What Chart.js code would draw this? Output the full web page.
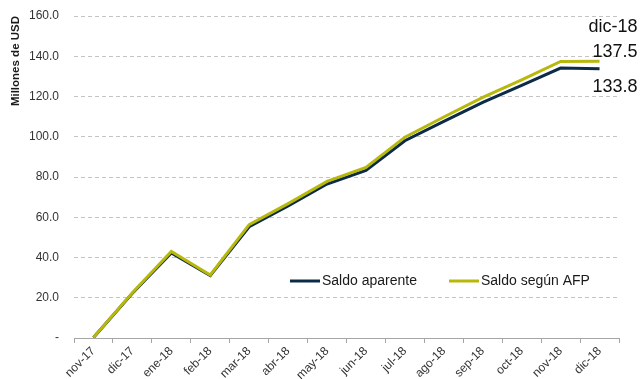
<!DOCTYPE html>
<html>
<head>
<meta charset="utf-8">
<script src="https://cdn.jsdelivr.net/npm/chart.js@4/dist/chart.umd.min.js"></script>
<style>
    html, body { margin: 0; padding: 0; background: #fff; }
    canvas { display: block; }
</style>
</head>
<body>
<canvas id="saldo" width="643" height="379"></canvas>
<script>
const meses = ['nov-17', 'dic-17', 'ene-18', 'feb-18', 'mar-18', 'abr-18', 'may-18',
    'jun-18', 'jul-18', 'ago-18', 'sep-18', 'oct-18', 'nov-18', 'dic-18']
const saldoAparente = [0.2, 22.2, 42.2, 31.0, 55.3, 65.6, 76.5, 83.3, 98.0, 107.6, 117.1, 125.5, 134.1, 133.8]
const saldoAfp = [0.3, 22.5, 43.0, 31.3, 56.3, 66.8, 77.8, 84.8, 99.8, 109.8, 119.6, 128.3, 137.4, 137.5]
const ejeY = [0, 20, 40, 60, 80, 100, 120, 140, 160]

const azul = '#0c2b47'
const amarillo = '#b8b80c'
const fuente = "'Liberation Sans', Arial, sans-serif"

// leyenda dentro del area del grafico
const leyenda = {
    id: 'leyenda',
    afterDatasetsDraw(chart) {
        const ctx = chart.ctx
        const items = [
            { text: 'Saldo aparente', color: azul, x: 290 },
            { text: 'Saldo según AFP', color: amarillo, x: 449 }
        ]
        const y = 281
        ctx.save()
        ctx.font = '14px ' + fuente
        ctx.textBaseline = 'middle'
        ctx.fillStyle = '#1a1a1a'
        items.forEach(item => {
            ctx.strokeStyle = item.color
            ctx.lineWidth = 3
            ctx.beginPath()
            ctx.moveTo(item.x, y)
            ctx.lineTo(item.x + 30, y)
            ctx.stroke()
            ctx.fillText(item.text, item.x + 32, y)
        })
        ctx.restore()
    }
}

// etiquetas del ultimo mes
const ultimoValor = {
    id: 'ultimoValor',
    afterDatasetsDraw(chart) {
        const ctx = chart.ctx
        const n = meses.length - 1
        const pAfp = chart.getDatasetMeta(1).data[n]
        const pApa = chart.getDatasetMeta(0).data[n]
        const derecha = pAfp.x + 38
        ctx.save()
        ctx.font = '18px ' + fuente
        ctx.fillStyle = '#111'
        ctx.textAlign = 'right'
        ctx.textBaseline = 'middle'
        ctx.fillText(meses[n], derecha, pAfp.y - 34)
        ctx.fillText(saldoAfp[n].toFixed(1), derecha, pAfp.y - 9)
        ctx.fillText(saldoAparente[n].toFixed(1), derecha, pApa.y + 18)
        ctx.restore()
    }
}

new Chart(document.getElementById('saldo').getContext('2d'), {
    type: 'line',
    data: {
        labels: meses,
        datasets: [{
            label: 'Saldo aparente',
            data: saldoAparente,
            borderColor: azul,
            backgroundColor: azul,
            borderWidth: 3,
            pointRadius: 0,
            tension: 0,
            order: 2
        }, {
            label: 'Saldo según AFP',
            data: saldoAfp,
            borderColor: amarillo,
            backgroundColor: amarillo,
            borderWidth: 3,
            pointRadius: 0,
            tension: 0,
            order: 1
        }]
    },
    options: {
        responsive: false,
        animation: false,
        layout: {
            autoPadding: false,
            padding: { left: 5, right: 24, top: 16, bottom: 0 }
        },
        plugins: {
            legend: { display: false },
            tooltip: { enabled: false }
        },
        scales: {
            x: {
                offset: true,
                afterFit: scale => {
                    scale.height = 41
                },
                grid: {
                    offset: true,
                    drawOnChartArea: false,
                    drawTicks: true,
                    tickLength: 5,
                    color: '#a6a6a6'
                },
                border: { color: '#a6a6a6', width: 1 },
                ticks: {
                    autoSkip: false,
                    maxRotation: 45,
                    minRotation: 45,
                    padding: 1,
                    color: '#333',
                    font: { family: fuente, size: 12 }
                }
            },
            y: {
                min: 0,
                max: 160,
                afterBuildTicks: scale => {
                    scale.ticks = ejeY.map(v => ({ value: v }))
                },
                afterFit: scale => {
                    scale.width = 69
                    scale.paddingTop = 0
                    scale.paddingBottom = 0
                },
                grid: {
                    drawTicks: false,
                    color: '#c4c4c4'
                },
                border: { display: false, dash: [4, 3] },
                ticks: {
                    padding: 15,
                    color: '#333',
                    font: { family: fuente, size: 12 },
                    callback: v => v === 0 ? '-' : v.toFixed(1)
                },
                title: {
                    display: true,
                    text: 'Millones de USD',
                    align: 'end',
                    color: '#1a1a1a',
                    padding: { top: 4, bottom: 4 },
                    font: { family: fuente, size: 11.5, weight: 'bold' }
                }
            }
        }
    },
    plugins: [leyenda, ultimoValor]
})
</script>
</body>
</html>
